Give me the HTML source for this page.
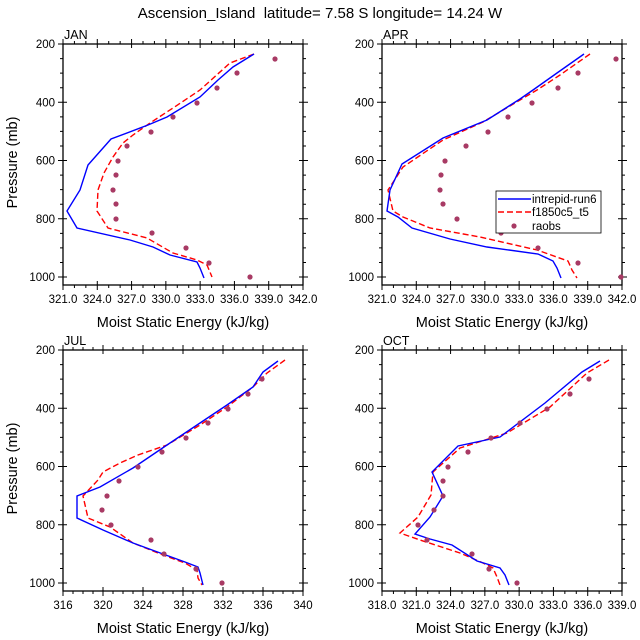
<!DOCTYPE html>
<html><head><meta charset="utf-8"><style>
html,body{margin:0;padding:0;background:#fff;}
svg{display:block;font-family:"Liberation Sans",sans-serif;}
</style></head><body>
<svg id="s" width="640" height="640" xmlns="http://www.w3.org/2000/svg">
<text x="320" y="18" font-size="15" text-anchor="middle">Ascension_Island &#160;latitude= 7.58 S longitude= 14.24 W</text>
</svg>
<script>
const NS="http://www.w3.org/2000/svg",S=document.getElementById('s');
function el(t,a,txt){const e=document.createElementNS(NS,t);for(const k in a)e.setAttribute(k,a[k]);if(txt!=null)e.textContent=txt;S.appendChild(e);return e;}
const panels=[
{x:63,y:44,n:"JAN",xmin:321,xmax:342,maj:3,dec:1,ylab:true,
blue:[[254,54],[233,67],[218,80],[200,97],[167,117],[148,125],[111,139],[88,165],[80,190],[67,211],[77,228],[130,240],[153,247],[170,255],[197,262],[200,268],[204,278]],
red:[[254,54],[230,63],[200,90],[173,108],[150,123],[133,135],[123,143],[113,157],[104,173],[98,190],[97,211],[108,228],[147,238],[173,253],[197,260],[207,265],[212,277]],
dots:[[275,59],[237,73],[217,88],[197,103],[173,117],[151,132],[127,146],[118,161],[116,175],[113,190],[116,204],[116,219],[152,233],[186,248],[209,263],[250,277]]},
{x:382,y:44,n:"APR",xmin:321,xmax:342,maj:3,dec:1,ylab:false,legend:true,
blue:[[584,54],[557,73],[533,90],[520,99],[487,120],[443,138],[402,164],[390,190],[387,211],[398,217],[412,228],[450,239],[487,247],[538,254],[553,261],[557,268],[561,278]],
red:[[590,54],[560,75],[537,90],[520,100],[483,122],[443,140],[403,167],[388,190],[393,211],[403,217],[430,228],[480,237],[537,250],[568,261],[572,270],[577,278]],
dots:[[616,59],[578,73],[558,88],[532,103],[508,117],[488,132],[466,146],[445,161],[441,175],[440,190],[443,204],[457,219],[501,233],[538,248],[578,263],[621,277]]},
{x:63,y:350,n:"JUL",xmin:316,xmax:340,maj:4,dec:0,ylab:true,
blue:[[278,361],[263,372],[253,387],[227,405],[200,423],[167,445],[133,468],[100,487],[77,496],[77,518],[103,530],[133,543],[163,554],[185,562],[198,567],[200,573],[203,585]],
red:[[285,360],[267,373],[253,387],[227,407],[200,425],[167,445],[138,455],[120,463],[103,472],[98,480],[83,496],[88,518],[110,527],[133,543],[163,555],[185,563],[197,570],[198,578],[202,585]],
dots:[[262,379],[248,394],[228,409],[208,423],[186,438],[162,452],[138,467],[119,481],[107,496],[102,510],[111,525],[151,540],[164,554],[196,569],[222,583]]},
{x:382,y:350,n:"OCT",xmin:318,xmax:339,maj:3,dec:1,ylab:false,
blue:[[600,361],[582,372],[545,403],[500,437],[458,446],[432,472],[443,496],[430,517],[415,534],[430,539],[452,545],[477,561],[500,568],[505,575],[509,585]],
red:[[609,360],[587,373],[550,407],[507,433],[460,448],[433,472],[431,495],[418,517],[400,533],[420,540],[460,553],[483,563],[493,568],[497,577],[500,585]],
dots:[[589,379],[570,394],[547,409],[520,423],[491,438],[468,452],[448,467],[443,481],[443,496],[434,510],[418,525],[427,540],[472,554],[489,569],[517,583]]}
];
const W=240,H=241,K=0.29125;
panels.forEach(p=>{
 let d="";
 const sx=W/(p.xmax-p.xmin);
 for(let v=p.xmin;v<=p.xmax+1e-6;v++){
  const X=p.x+(v-p.xmin)*sx, major=((v-p.xmin)%p.maj)==0, L=major?5:3, I=major?4:0;
  d+=`M${X} ${p.y+H+L}V${p.y+H-I}M${X} ${p.y-L}V${p.y+I}`;
  if(major) el('text',{x:X,y:p.y+H+18,'font-size':11.5,'text-anchor':'middle'},v.toFixed(p.dec));
 }
 for(let pr=200;pr<=1000;pr+=50){
  const Y=p.y+(pr-200)*K, major=pr%200==0, L=major?5:3, I=major?4:0;
  d+=`M${p.x-L} ${Y}H${p.x+I}M${p.x+W+L} ${Y}H${p.x+W-I}`;
  if(major) el('text',{x:p.x-8,y:Y+4,'font-size':11.5,'text-anchor':'end'},pr);
 }
 el('path',{d:d,stroke:'#000','stroke-width':1,fill:'none'});
 el('rect',{x:p.x,y:p.y,width:W,height:H,fill:'none',stroke:'#000','stroke-width':1.3});
 el('text',{x:p.x+1,y:p.y-5,'font-size':12.5},p.n);
 el('text',{x:p.x+W/2,y:p.y+H+42,'font-size':14.5,'text-anchor':'middle'},"Moist Static Energy (kJ/kg)");
 if(p.ylab){const cy=p.y+H/2-2;el('text',{x:17,y:cy,'font-size':14.5,'text-anchor':'middle',transform:`rotate(-90 17 ${cy})`},"Pressure (mb)");}
 el('polyline',{points:p.red.join(' '),fill:'none',stroke:'#ff0000','stroke-width':1.4,'stroke-dasharray':'6 3'});
 el('polyline',{points:p.blue.join(' '),fill:'none',stroke:'#0000ff','stroke-width':1.4});
 p.dots.forEach(q=>el('circle',{cx:q[0],cy:q[1],r:2.6,fill:'#a83a64'}));
 if(p.legend){
  el('rect',{x:496,y:191,width:105,height:42,fill:'#fff',stroke:'#000','stroke-width':0.8});
  el('line',{x1:498,y1:199,x2:531,y2:199,stroke:'#0000ff','stroke-width':1.4});
  el('line',{x1:498,y1:212,x2:531,y2:212,stroke:'#ff0000','stroke-width':1.4,'stroke-dasharray':'6 3'});
  el('circle',{cx:514,cy:226,r:2.6,fill:'#a83a64'});
  el('text',{x:532,y:203,'font-size':11.5},"intrepid-run6");
  el('text',{x:532,y:216,'font-size':11.5},"f1850c5_t5");
  el('text',{x:532,y:230,'font-size':11.5},"raobs");
 }
});
</script>
</body></html>
